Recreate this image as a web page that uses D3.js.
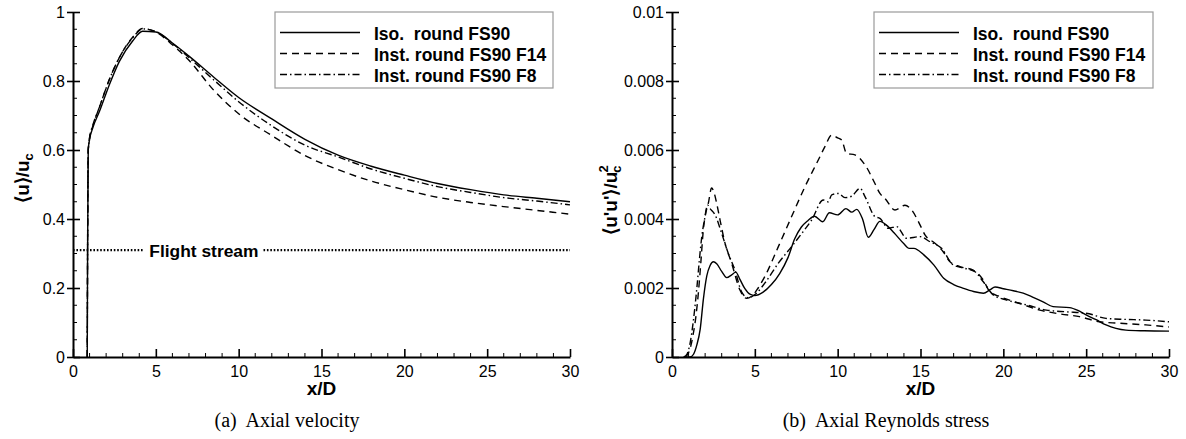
<!DOCTYPE html>
<html>
<head>
<meta charset="utf-8">
<script src="https://cdn.jsdelivr.net/npm/d3@7"></script>
<style>
  html, body { margin: 0; padding: 0; background: #fff; }
  svg { display: block; }
  text { fill: #000; }
</style>
</head>
<body>
<svg id="fig" width="1186" height="439"></svg>
<script>
// ---- Data: axial velocity <u>/u_c along the centreline ----
const velX   = [0.86, 0.88, 0.92, 1.0, 1.2, 1.6, 2.2, 2.8, 3.6, 4.2, 5.0, 6.0, 7.0, 8.5, 10, 12, 14, 16, 18, 20, 22, 24, 26, 28, 30];
const velIso = [0, 0.3, 0.6, 0.63, 0.665, 0.712, 0.79, 0.857, 0.916, 0.944, 0.942, 0.91, 0.872, 0.811, 0.752, 0.69, 0.631, 0.585, 0.553, 0.527, 0.503, 0.485, 0.47, 0.46, 0.45];
const velF14 = [0, 0.3, 0.6, 0.635, 0.67, 0.725, 0.805, 0.868, 0.927, 0.952, 0.942, 0.905, 0.86, 0.773, 0.705, 0.642, 0.584, 0.543, 0.51, 0.485, 0.463, 0.448, 0.436, 0.425, 0.414];
const velF8  = [0, 0.3, 0.6, 0.635, 0.672, 0.725, 0.805, 0.868, 0.925, 0.951, 0.943, 0.909, 0.868, 0.803, 0.74, 0.67, 0.614, 0.58, 0.545, 0.518, 0.494, 0.477, 0.462, 0.452, 0.441];
const flightStream = 0.31;

// ---- Data: axial Reynolds stress <u'u'>/u_c^2 ----
const rsIsoX = [0.8, 1.1, 1.3, 1.5, 1.7, 1.9, 2.1, 2.3, 2.5, 2.7, 3.0, 3.3, 3.6, 3.85, 4.1, 4.4, 4.7, 5.0, 5.5, 6.0, 6.5, 7.0, 7.4, 7.8, 8.2, 8.6, 9.1, 9.5, 10.0, 10.5, 10.85, 11.15, 11.5, 11.85, 12.2, 12.55, 13.0, 13.4, 14.0, 14.3, 14.6, 15.2, 15.8, 16.4, 17.0, 17.6, 18.2, 18.8, 19.2, 19.5, 20.0, 20.6, 21.2, 21.8, 22.4, 23.0, 24.0, 24.5, 25.0, 25.6, 26.2, 26.8, 27.4, 28.5, 30];
const rsIso  = [0, 0, 0.00008, 0.00035, 0.0008, 0.0017, 0.00235, 0.00265, 0.00276, 0.0027, 0.00248, 0.0023, 0.00238, 0.00246, 0.00225, 0.00198, 0.00182, 0.00178, 0.00188, 0.0021, 0.00242, 0.00288, 0.00342, 0.00376, 0.00395, 0.00408, 0.00392, 0.00418, 0.00412, 0.0043, 0.0042, 0.00428, 0.004, 0.00347, 0.0037, 0.00393, 0.0038, 0.0036, 0.00328, 0.00315, 0.00315, 0.00296, 0.00267, 0.00228, 0.0021, 0.00199, 0.0019, 0.00185, 0.00195, 0.00203, 0.00198, 0.00192, 0.00185, 0.00173, 0.0016, 0.00146, 0.00143, 0.00135, 0.00122, 0.00108, 0.00093, 0.00083, 0.00078, 0.00076, 0.00075];

const rsF14X = [0.8, 0.98, 1.15, 1.29, 1.45, 1.59, 1.75, 1.89, 2.05, 2.19, 2.39, 2.55, 2.7, 2.9, 3.2, 3.6, 4.1, 4.5, 4.9, 5.2, 5.6, 6.42, 7.22, 8.03, 8.83, 9.23, 9.64, 10.0, 10.24, 10.54, 11.04, 11.65, 12.25, 12.55, 12.85, 13.46, 14.06, 14.47, 14.97, 15.27, 15.87, 16.37, 16.78, 17.38, 18.18, 18.79, 19.19, 19.8, 21.0, 22.2, 23.4, 24.6, 25.8, 27.0, 28.6, 30];
const rsF14  = [0, 0.0001, 0.00035, 0.00069, 0.0012, 0.00185, 0.0028, 0.00368, 0.0042, 0.00445, 0.0049, 0.00475, 0.00445, 0.00397, 0.0033, 0.00272, 0.00194, 0.0017, 0.0018, 0.002, 0.00233, 0.0032, 0.00407, 0.00494, 0.00571, 0.0061, 0.00643, 0.00635, 0.00629, 0.0059, 0.00586, 0.00557, 0.00503, 0.00474, 0.0046, 0.00426, 0.0044, 0.00426, 0.00383, 0.00354, 0.0033, 0.00305, 0.00276, 0.00262, 0.00252, 0.00223, 0.00189, 0.00175, 0.00155, 0.00136, 0.00125, 0.00117, 0.00102, 0.00098, 0.00093, 0.00087];

const rsF8X = [0.7, 0.9, 1.05, 1.19, 1.35, 1.5, 1.65, 1.8, 1.95, 2.15, 2.3, 2.6, 3.0, 3.4, 3.8, 4.2, 4.6, 5.1, 5.6, 6.42, 7.22, 7.83, 8.43, 9.13, 9.43, 9.64, 10.04, 10.44, 10.84, 11.35, 11.65, 12.25, 12.55, 13.06, 13.56, 14.16, 14.97, 15.57, 16.27, 16.97, 17.68, 18.29, 18.79, 19.39, 20.2, 21.4, 22.6, 23.8, 25.0, 26.2, 27.4, 28.6, 30];
const rsF8  = [0, 0.00008, 0.0003, 0.00069, 0.0013, 0.002, 0.0028, 0.0035, 0.00395, 0.0044, 0.0043, 0.00412, 0.00358, 0.003, 0.00252, 0.00189, 0.00172, 0.00185, 0.00214, 0.00272, 0.0032, 0.00358, 0.00397, 0.00455, 0.0045, 0.0047, 0.00474, 0.00462, 0.00466, 0.00489, 0.00465, 0.00407, 0.00402, 0.00373, 0.00378, 0.00344, 0.00349, 0.00334, 0.00315, 0.00267, 0.00257, 0.00247, 0.00218, 0.0018, 0.00165, 0.00151, 0.00136, 0.00131, 0.00127, 0.00112, 0.00109, 0.00107, 0.00102];

// ---- Axis ticks and labels ----
const xTicks = [0, 5, 10, 15, 20, 25, 30];
const velTicks = [0, 0.2, 0.4, 0.6, 0.8, 1];
const velTickLabels = ["0", "0.2", "0.4", "0.6", "0.8", "1"];
const rsTicks = [0, 0.002, 0.004, 0.006, 0.008, 0.01];
const rsTickLabels = ["0", "0.002", "0.004", "0.006", "0.008", "0.01"];
const seriesNames = ["Iso.  round FS90", "Inst. round FS90 F14", "Inst. round FS90 F8"];
const captions = ["(a)  Axial velocity", "(b)  Axial Reynolds stress"];

const dashes = ["none", "7,5", "7,3,1.5,3"];
const SANS = "'Liberation Sans', Arial, Helvetica, sans-serif";
const SERIF = "'Liberation Serif', 'Times New Roman', serif";

const svg = d3.select("#fig");

function drawPanel(opt) {
  const g = svg.append("g");
  const x = d3.scaleLinear().domain([0, 30]).range([opt.left, opt.right]);
  const y = d3.scaleLinear().domain(opt.yDomain).range([opt.bottom, opt.top]);

  // series
  const line = d3.line().x(d => x(d[0])).y(d => y(d[1])).curve(d3.curveMonotoneX);
  opt.series.forEach((s, i) => {
    g.append("path")
      .datum(d3.zip(s.x, s.y))
      .attr("d", line)
      .attr("fill", "none")
      .attr("stroke", "#000")
      .attr("stroke-width", 1.4)
      .attr("stroke-dasharray", dashes[i]);
  });

  // minor ticks (inward)
  const xMinor = d3.range(0, 31, 1).filter(v => v % 5 !== 0);
  g.append("g").selectAll("line").data(xMinor).join("line")
    .attr("x1", d => x(d)).attr("x2", d => x(d))
    .attr("y1", opt.bottom).attr("y2", opt.bottom - 4)
    .attr("stroke", "#000").attr("stroke-width", 1);
  const yMinor = d3.range(0, 21).map(k => opt.yDomain[1] * k / 20).filter((v, k) => k % 4 !== 0);
  g.append("g").selectAll("line").data(yMinor).join("line")
    .attr("x1", opt.left).attr("x2", opt.left + 4)
    .attr("y1", d => y(d)).attr("y2", d => y(d))
    .attr("stroke", "#000").attr("stroke-width", 1);

  // x axis
  const xAxis = d3.axisBottom(x).tickValues(xTicks).tickSizeInner(-8).tickSizeOuter(0).tickPadding(14);
  const gx = g.append("g").attr("transform", `translate(0,${opt.bottom})`).call(xAxis);
  gx.select(".domain").attr("stroke-width", 2);
  gx.selectAll(".tick line").attr("stroke-width", 1.6);
  gx.selectAll(".tick text").attr("font-family", SANS).attr("font-size", 16).attr("dy", "0.35em");

  // y axis (major ticks straddle the axis line)
  const yAxis = d3.axisLeft(y).tickValues(opt.yTicks).tickFormat((d, i) => opt.yLabels[i])
    .tickSizeInner(6).tickSizeOuter(0).tickPadding(2);
  const gy = g.append("g").attr("transform", `translate(${opt.left},0)`).call(yAxis);
  gy.select(".domain").attr("stroke-width", 2);
  gy.selectAll(".tick line").attr("x2", 7).attr("x1", -6).attr("stroke-width", 1.6);
  gy.selectAll(".tick text").attr("font-family", SANS).attr("font-size", 16);

  // x title
  g.append("text")
    .attr("x", (opt.left + opt.right) / 2).attr("y", 395)
    .attr("text-anchor", "middle")
    .attr("font-family", SANS).attr("font-size", 19).attr("font-weight", "bold")
    .text("x/D");

  // legend
  const lg = g.append("g");
  lg.append("rect")
    .attr("x", opt.legX).attr("y", 12)
    .attr("width", opt.legW).attr("height", 76)
    .attr("fill", "#fff").attr("stroke", "#9a9a9a").attr("stroke-width", 1.2);
  seriesNames.forEach((name, i) => {
    const cy = 32.5 + i * 21;
    lg.append("line")
      .attr("x1", opt.legX + 5).attr("x2", opt.legX + 85)
      .attr("y1", cy).attr("y2", cy)
      .attr("stroke", "#000").attr("stroke-width", 1.4)
      .attr("stroke-dasharray", dashes[i]);
    lg.append("text")
      .attr("x", opt.legX + 99).attr("y", cy + 7)
      .attr("font-family", SANS).attr("font-size", 17.5).attr("font-weight", "bold")
      .style("white-space", "pre")
      .text(name);
  });

  // caption
  g.append("text")
    .attr("x", opt.capX).attr("y", 427)
    .attr("text-anchor", "middle")
    .attr("font-family", SERIF).attr("font-size", 20)
    .style("white-space", "pre")
    .text(opt.caption);

  return { g, x, y };
}

// left panel: axial velocity
const P1 = drawPanel({
  left: 73, right: 570, top: 12, bottom: 357,
  yDomain: [0, 1], yTicks: velTicks, yLabels: velTickLabels,
  series: [{ x: velX, y: velIso }, { x: velX, y: velF14 }, { x: velX, y: velF8 }],
  legX: 275, legW: 278, capX: 287, caption: captions[0]
});

// flight-stream reference line with inline label
const fsY = P1.y(flightStream);
P1.g.append("line")
  .attr("x1", P1.x(0)).attr("x2", P1.x(4.3))
  .attr("y1", fsY).attr("y2", fsY)
  .attr("stroke", "#000").attr("stroke-width", 2.2).attr("stroke-dasharray", "1.6,1.8");
P1.g.append("line")
  .attr("x1", P1.x(11.5)).attr("x2", P1.x(30))
  .attr("y1", fsY).attr("y2", fsY)
  .attr("stroke", "#000").attr("stroke-width", 2.2).attr("stroke-dasharray", "1.6,1.8");
P1.g.append("text")
  .attr("x", (P1.x(4.3) + P1.x(11.5)) / 2).attr("y", fsY + 7)
  .attr("text-anchor", "middle")
  .attr("font-family", SANS).attr("font-size", 17.4).attr("font-weight", "bold")
  .text("Flight stream");

// left y title: <u>/u_c
const t1 = svg.append("text")
  .attr("transform", "translate(29,178) rotate(-90)")
  .attr("text-anchor", "middle")
  .attr("font-family", SANS).attr("font-size", 19).attr("font-weight", "bold");
t1.append("tspan").text("\u27E8u\u27E9/u");
t1.append("tspan").attr("font-size", 13).attr("dy", 4).text("c");

// right panel: axial Reynolds stress
const P2 = drawPanel({
  left: 672, right: 1169, top: 12, bottom: 357,
  yDomain: [0, 0.01], yTicks: rsTicks, yLabels: rsTickLabels,
  series: [{ x: rsIsoX, y: rsIso }, { x: rsF14X, y: rsF14 }, { x: rsF8X, y: rsF8 }],
  legX: 874, legW: 279, capX: 886, caption: captions[1]
});

// right y title: <u'u'>/u_c^2
const t2 = svg.append("text")
  .attr("transform", "translate(617,200) rotate(-90)")
  .attr("text-anchor", "middle")
  .attr("font-family", SANS).attr("font-size", 19).attr("font-weight", "bold");
t2.append("tspan").text("\u27E8u'u'\u27E9/u");
t2.append("tspan").attr("font-size", 13).attr("dy", 4).attr("dx", -1).text("c");
t2.append("tspan").attr("font-size", 13).attr("dy", -13).attr("dx", -7).text("2");
</script>
</body>
</html>
